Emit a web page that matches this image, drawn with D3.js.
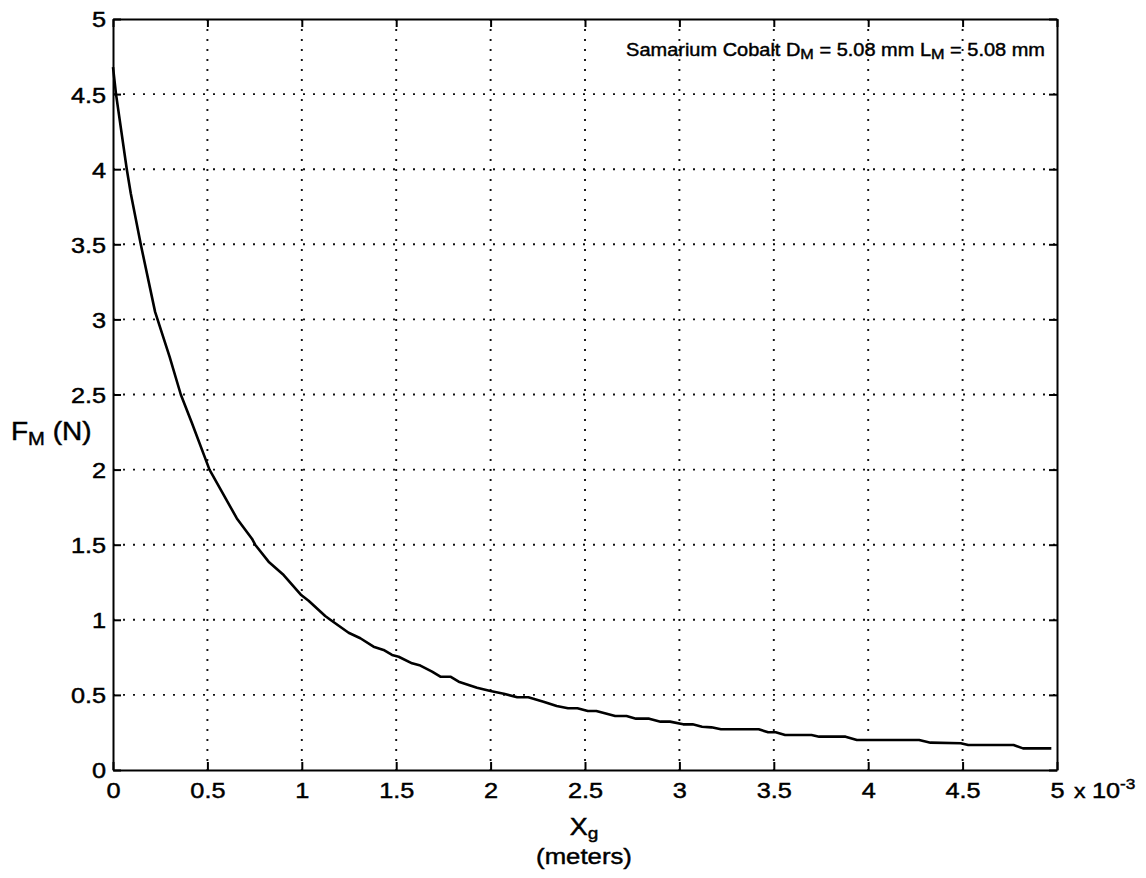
<!DOCTYPE html>
<html>
<head>
<meta charset="utf-8">
<script src="https://cdn.jsdelivr.net/npm/d3@7"></script>
<style>
    body { margin: 0; background: #fff; }
    text { font-family: "Liberation Sans", Arial, sans-serif; fill: #000; stroke: #000; stroke-width: 0.45; }
    .axis path, .axis line { stroke: #000; stroke-width: 2; }
    .grid line { stroke: #111; stroke-width: 1.9; stroke-dasharray: 2,8; }
</style>
</head>
<body>
<svg id="chart"></svg>
<script>
// gap distance Xg (x 10^-3 m) and magnet force FM (N)
const gapValues = [0, 0.016, 0.073, 0.094, 0.147, 0.196, 0.223, 0.30, 0.359, 0.418,
    0.511, 0.656, 0.736, 0.753, 0.824, 0.904, 0.997, 1.036, 1.124, 1.151,
    1.248, 1.31, 1.38, 1.433, 1.478, 1.513, 1.584, 1.628, 1.69, 1.734,
    1.787, 1.831, 1.928, 1.999, 2.07, 2.141, 2.2, 2.28, 2.35, 2.41,
    2.46, 2.515, 2.56, 2.66, 2.72, 2.77, 2.84, 2.9, 2.95, 3.02,
    3.07, 3.12, 3.17, 3.22, 3.42, 3.47, 3.51, 3.56, 3.70, 3.74,
    3.88, 3.94, 4.27, 4.33, 4.49, 4.53, 4.77, 4.82, 4.97];
const forceValues = [4.68, 4.5, 4.0, 3.84, 3.5, 3.21, 3.05, 2.75, 2.5, 2.31,
    2.0, 1.675, 1.54, 1.5, 1.387, 1.298, 1.165, 1.127, 1.025, 1.0,
    0.914, 0.877, 0.821, 0.799, 0.766, 0.754, 0.71, 0.695, 0.655, 0.621,
    0.621, 0.588, 0.548, 0.526, 0.508, 0.484, 0.484, 0.455, 0.426, 0.411,
    0.411, 0.393, 0.393, 0.36, 0.36, 0.342, 0.342, 0.322, 0.322, 0.304,
    0.304, 0.288, 0.284, 0.271, 0.271, 0.251, 0.251, 0.233, 0.233, 0.222,
    0.222, 0.2, 0.2, 0.182, 0.178, 0.166, 0.166, 0.144, 0.144];

const xTicks = [0, 0.5, 1, 1.5, 2, 2.5, 3, 3.5, 4, 4.5, 5];
const yTicks = [0, 0.5, 1, 1.5, 2, 2.5, 3, 3.5, 4, 4.5, 5];
const xTickLabels = ["0", "0.5", "1", "1.5", "2", "2.5", "3", "3.5", "4", "4.5", "5"];
const yTickLabels = ["0", "0.5", "1", "1.5", "2", "2.5", "3", "3.5", "4", "4.5", "5"];

class ForceChart {
    constructor(_config, _x, _y) {
        this.config = {
            parentElement: _config.parentElement,
            containerWidth: _config.containerWidth || 1146,
            containerHeight: _config.containerHeight || 878,
            margin: _config.margin || {top: 19, right: 89, bottom: 108, left: 113}
        };
        this.data = _x.map((d, i) => ({x: d, f: _y[i]}));
        this.initVis();
    }

    initVis() {
        let vis = this;
        const m = vis.config.margin;
        vis.width = vis.config.containerWidth - m.left - m.right;
        vis.height = vis.config.containerHeight - m.top - m.bottom;

        vis.xScale = d3.scaleLinear().domain([0, 5]).range([0, vis.width]);
        vis.yScale = d3.scaleLinear().domain([0, 5]).range([vis.height, 0]);

        vis.svg = d3.select(vis.config.parentElement)
            .attr('width', vis.config.containerWidth)
            .attr('height', vis.config.containerHeight);

        vis.chart = vis.svg.append('g')
            .attr('transform', `translate(${m.left},${m.top})`);

        // dotted grid
        const grid = vis.chart.append('g').attr('class', 'grid');
        grid.selectAll('.vline')
            .data(xTicks.slice(1, -1))
            .join('line')
            .attr('x1', d => vis.xScale(d)).attr('x2', d => vis.xScale(d))
            .attr('y1', 0).attr('y2', vis.height);
        grid.selectAll('.hline')
            .data(yTicks.slice(1, -1))
            .join('line')
            .attr('x1', 0).attr('x2', vis.width)
            .attr('y1', d => vis.yScale(d)).attr('y2', d => vis.yScale(d));

        // axes, ticks pointing inward
        vis.xAxis = d3.axisBottom(vis.xScale)
            .tickValues(xTicks)
            .tickSizeInner(-8).tickSizeOuter(0).tickPadding(12)
            .tickFormat((d, i) => xTickLabels[i]);
        vis.yAxis = d3.axisLeft(vis.yScale)
            .tickValues(yTicks)
            .tickSizeInner(-8).tickSizeOuter(0).tickPadding(6)
            .tickFormat((d, i) => yTickLabels[i]);
        vis.xAxisTop = d3.axisTop(vis.xScale)
            .tickValues(xTicks).tickSizeInner(-8).tickSizeOuter(0).tickFormat('');
        vis.yAxisRight = d3.axisRight(vis.yScale)
            .tickValues(yTicks).tickSizeInner(-8).tickSizeOuter(0).tickFormat('');

        vis.xAxisG = vis.chart.append('g')
            .attr('class', 'axis x-axis')
            .attr('transform', `translate(0,${vis.height})`)
            .call(vis.xAxis);
        vis.yAxisG = vis.chart.append('g')
            .attr('class', 'axis y-axis')
            .call(vis.yAxis);
        vis.chart.append('g').attr('class', 'axis').call(vis.xAxisTop);
        vis.chart.append('g').attr('class', 'axis')
            .attr('transform', `translate(${vis.width},0)`)
            .call(vis.yAxisRight);

        vis.chart.selectAll('.axis text')
            .attr('font-size', 22)
            .attr('font-family', '"Liberation Sans", Arial, sans-serif')
            .attr('transform', 'scale(1.15,1)');
        vis.yAxisG.selectAll('text').attr('dy', '0.36em');

        // exponent next to the last x tick
        const expo = vis.chart.append('g')
            .attr('transform', `translate(${vis.width + 17},${vis.height + 28}) scale(1.15,1)`)
            .append('text')
            .attr('font-size', 20);
        expo.append('tspan').text('x ');
        expo.append('tspan').attr('font-size', 22).text('10');
        expo.append('tspan').attr('font-size', 15).attr('dy', -9).text('-3');

        // title inside the plot
        const title = vis.chart.append('g')
            .attr('transform', `translate(${vis.width - 12},37) scale(1.08,1)`)
            .append('text')
            .attr('text-anchor', 'end')
            .attr('font-size', 18.5);
        title.append('tspan').text('Samarium Cobalt D');
        title.append('tspan').attr('font-size', 15).attr('dy', 3).text('M');
        title.append('tspan').attr('dy', -3).text(' = 5.08 mm L');
        title.append('tspan').attr('font-size', 15).attr('dy', 3).text('M');
        title.append('tspan').attr('dy', -3).text(' = 5.08 mm');

        // y label
        const yLab = vis.svg.append('g')
            .attr('transform', `translate(11,440) scale(1.12,1)`)
            .append('text')
            .attr('font-size', 25);
        yLab.append('tspan').text('F');
        yLab.append('tspan').attr('font-size', 18).attr('dy', 5).text('M');
        yLab.append('tspan').attr('dy', -5).text(' (N)');

        // x label
        const xLab = vis.svg.append('g')
            .attr('transform', `translate(${m.left + vis.width / 2 - 1},835) scale(1.12,1)`)
            .append('text')
            .attr('text-anchor', 'middle')
            .attr('font-size', 24);
        xLab.append('tspan').text('X');
        xLab.append('tspan').attr('font-size', 17).attr('dy', 4).text('g');
        vis.svg.append('g')
            .attr('transform', `translate(${m.left + vis.width / 2 - 1},864) scale(1.12,1)`)
            .append('text')
            .attr('text-anchor', 'middle')
            .attr('font-size', 23)
            .text('(meters)');

        vis.renderVis();
    }

    renderVis() {
        let vis = this;
        vis.chart.append('path')
            .datum(vis.data)
            .attr('fill', 'none')
            .attr('stroke', '#000')
            .attr('stroke-width', 2.6)
            .attr('stroke-linejoin', 'round')
            .attr('d', d3.line()
                .x(d => vis.xScale(d.x))
                .y(d => vis.yScale(d.f)));
    }
}

const chart = new ForceChart({parentElement: '#chart'}, gapValues, forceValues);
</script>
</body>
</html>
